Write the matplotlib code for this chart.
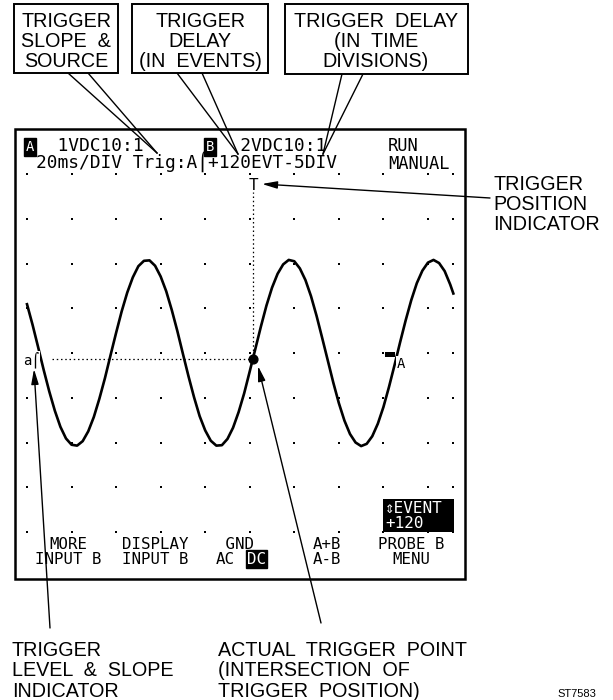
import matplotlib
matplotlib.use('Agg')
import matplotlib.pyplot as plt
import numpy as np
from matplotlib.transforms import Affine2D
from matplotlib.patches import Rectangle

# ---------------- data ----------------
# waveform samples (x in divisions from left grid column, y in divisions from centre row)
wave_x = list(np.arange(0, 9.51, 0.125)) + [9.57]
wave_y = [1.09, 0.63, 0.13, -0.38, -0.86, -1.29, -1.65, -1.91, -2.05, -2.07,
          -1.97, -1.75, -1.43, -1.02, -0.56, -0.05, 0.45, 0.93, 1.35, 1.69,
          1.94, 2.06, 2.07, 1.95, 1.71, 1.38, 0.96, 0.49, -0.02, -0.52,
          -0.99, -1.41, -1.73, -1.96, -2.07, -2.06, -1.92, -1.67, -1.32, -0.90,
          -0.41, 0.09, 0.59, 1.06, 1.46, 1.77, 1.98, 2.08, 2.05, 1.89,
          1.63, 1.27, 0.83, 0.34, -0.16, -0.66, -1.12, -1.51, -1.81, -2.00,
          -2.08, -2.03, -1.86, -1.58, -1.21, -0.76, -0.27, 0.24, 0.73, 1.18,
          1.56, 1.84, 2.02, 2.08, 2.01, 1.83, 1.53, 1.33]
grid_cols = [0, 1, 2, 3, 4, 5, 6, 7, 8, 9, 9.57]
grid_rows = [-4, -3, -2, -1, 0, 1, 2, 3, 4]
trig_x = 5.08
trig_level = -0.134

header_left = "  1VDC10:1         2VDC10:1\n20ms/DIV Trig:A\u2320+120EVT-5DIV"
header_right = "RUN\nMANUAL"
menu_items = ["MORE\nINPUT B", "DISPLAY\nINPUT B", " GND\nAC", "A+B\nA-B", "PROBE B\nMENU"]
box_texts = ["TRIGGER\nSLOPE  &\nSOURCE",
             "TRIGGER\nDELAY\n(IN  EVENTS)",
             "TRIGGER  DELAY\n(IN  TIME\nDIVISIONS)"]
right_label = "TRIGGER\nPOSITION\nINDICATOR"
bottom_left_label = "TRIGGER\nLEVEL  &  SLOPE\nINDICATOR"
bottom_mid_label = "ACTUAL  TRIGGER  POINT\n(INTERSECTION  OF\nTRIGGER  POSITION)"

# ---------------- figure ----------------
fig = plt.figure(figsize=(6.13, 7.00), dpi=100)
ax = fig.add_axes([0, 0, 1, 1])
ax.set_xlim(0, 613)
ax.set_ylim(700, 0)
ax.axis('off')

X0, Y0, DX, DY = 27.0, 353.0, 44.55, 44.75
tr = Affine2D().scale(DX, -DY).translate(X0, Y0) + ax.transData

MONO = ['DejaVu Sans Mono', 'DejaVu Sans']
SANS = ['Liberation Sans', 'DejaVu Sans']
LW = 1.4

# screen border
ax.add_patch(Rectangle((14.5, 128.5), 450.5, 450.5, fill=False, ec='black', lw=1.8, zorder=3))

# grid dots
gx, gy = np.meshgrid(grid_cols, grid_rows)
ax.scatter(gx.ravel(), gy.ravel(), s=2.2, marker='s', c='black', lw=0, transform=tr, zorder=2)

# waveform
ax.plot(wave_x, wave_y, color='black', lw=1.9, transform=tr, zorder=4)

# trigger dotted lines and trigger point
ax.plot([0.56, trig_x], [trig_level, trig_level], color='black', lw=0.9,
        ls=(0, (1.2, 2.2)), transform=tr, zorder=3)
ax.plot([trig_x, trig_x], [trig_level, 3.6], color='black', lw=0.9,
        ls=(0, (1.2, 2.2)), transform=tr, zorder=3)
ax.scatter([trig_x], [trig_level], s=40, c='black', transform=tr, zorder=5)
ax.text(trig_x, 3.75, "T", transform=tr, family=MONO, fontsize=11.5,
        ha='center', va='center', zorder=5)

# header texts
ax.text(30, 147, "A", family=MONO, fontsize=10, color='white', ha='center', va='center',
        bbox=dict(boxstyle='square,pad=0.12', fc='black', ec='black'), zorder=6)
ax.text(210, 147, "B", family=MONO, fontsize=10, color='white', ha='center', va='center',
        bbox=dict(boxstyle='square,pad=0.12', fc='black', ec='black'), zorder=7)
ax.text(36, 155, header_left, family=MONO, fontsize=12.9, ha='left', va='center',
        linespacing=0.82, zorder=6)
ax.text(388, 155, header_right, family=MONO, fontsize=12.3, ha='left', va='center',
        linespacing=0.98, zorder=6)

# trigger level indicator (left) and channel A marker (right)
ax.text(31, 360, "a\u2320", family=MONO, fontsize=10, ha='center', va='center', zorder=6,
        bbox=dict(boxstyle='square,pad=0.05', fc='white', ec='none'))
ax.add_patch(Rectangle((385, 351.5), 10, 5, fc='black', ec='none', zorder=6))
ax.text(401, 364, "A", family=MONO, fontsize=10, ha='center', va='center', zorder=6,
        bbox=dict(boxstyle='square,pad=0.05', fc='white', ec='none'))

# event box
ax.add_patch(Rectangle((383, 499), 71, 33, fc='black', ec='none', zorder=6))
ax.text(385, 516, "\u21d5EVENT\n+120", family=MONO, fontsize=11.5, color='white',
        ha='left', va='center', linespacing=1.05, zorder=7)

# menu texts
menu_x = [68, 155, 216, 327, 411]
menu_ha = ['center', 'center', 'left', 'center', 'center']
for mx, ha, t in zip(menu_x, menu_ha, menu_items):
    ax.text(mx, 552, t, family=MONO, fontsize=11.3, ha=ha, va='center',
            multialignment='left' if ha == 'left' else 'center',
            linespacing=1.05, zorder=6)
ax.text(247, 559, "DC", family=MONO, fontsize=11.3, ha='left', va='center',
        color='white', zorder=7,
        bbox=dict(boxstyle='square,pad=0.08', fc='black', ec='black'))

# callout boxes at top
boxes = [(14, 4, 104, 69), (132, 4, 136, 69), (285, 4, 183, 70)]
box_cx = [66, 200, 376]
tips = [(157, 153), (238, 154), (323, 154)]
bases = [((68, 73), (88, 73)), ((177, 73), (202, 73)), ((342, 74), (363, 74))]
for (bx, by, bw, bh), cx, txt, tip, base in zip(boxes, box_cx, box_texts, tips, bases):
    ax.add_patch(Rectangle((bx, by), bw, bh, fc='white', ec='black', lw=LW, zorder=8))
    ax.text(cx, 41.5, txt, family=SANS, fontsize=14.2, ha='center', va='center',
            multialignment='center', linespacing=1.05, zorder=9)
    for p in base:
        ax.plot([p[0], tip[0]], [p[1], tip[1]], color='black', lw=1.0, zorder=7)

# annotation arrows
def arrow(start, end):
    ax.annotate("", xy=end, xytext=start, xycoords='data', textcoords='data',
                arrowprops=dict(arrowstyle='-|>,head_length=0.9,head_width=0.22',
                                color='black', lw=1.0, shrinkA=0, shrinkB=0),
                zorder=8)

arrow((490, 198), (262, 184))
arrow((50, 628), (34, 369))
arrow((321, 623), (258, 366))

ax.text(493, 204.5, right_label, family=SANS, fontsize=14.2, ha='left', va='center',
        linespacing=1.08)
ax.text(12, 671, bottom_left_label, family=SANS, fontsize=14.2, ha='left', va='center',
        linespacing=1.07)
ax.text(218, 671, bottom_mid_label, family=SANS, fontsize=14.2, ha='left', va='center',
        linespacing=1.07)

ax.text(557, 699, "ST7583", family=SANS, fontsize=8, ha='left', va='bottom')

fig.savefig("out.png", dpi=100)
